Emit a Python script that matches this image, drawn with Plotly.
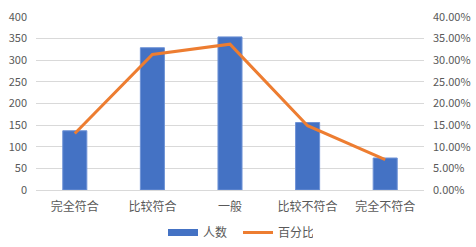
import plotly.graph_objects as go

categories = ["完全符合", "比较符合", "一般", "比较不符合", "完全不符合"]
counts = [137, 329, 354, 156, 74]
percents = [0.1305, 0.3133, 0.3371, 0.1486, 0.0705]
left_ticks = [0, 50, 100, 150, 200, 250, 300, 350, 400]
right_ticks = [0, 0.05, 0.10, 0.15, 0.20, 0.25, 0.30, 0.35, 0.40]

fam = "Noto Sans CJK SC, Liberation Sans, sans-serif"
font = dict(family=fam, size=11, color="#595959")
xfont = dict(family=fam, size=12, color="#595959")

fig = go.Figure()
fig.add_trace(go.Bar(x=categories, y=counts, name="人数", showlegend=False,
                     marker=dict(color="#4472C4", line=dict(color="#6f93d6", width=1))))
fig.add_trace(go.Scatter(x=[None], y=[None], name="人数", mode="lines",
                         line=dict(color="#4472C4", width=7)))
fig.add_trace(go.Scatter(x=categories, y=percents, name="百分比", yaxis="y2",
                         mode="lines", line=dict(color="#ED7D31", width=3)))

fig.update_layout(
    width=476, height=247,
    margin=dict(l=36, r=52, t=17, b=57, autoexpand=False),
    paper_bgcolor="white", plot_bgcolor="white",
    font=font,
    bargap=0.69,
    showlegend=True,
    legend=dict(orientation="h", xref="container", x=0.5, xanchor="center",
                yref="container", y=0.0, yanchor="bottom", font=xfont,
                itemwidth=30, entrywidth=30, traceorder="normal"),
    xaxis=dict(showgrid=False, showline=True, linecolor="#d9d9d9", ticks="",
               tickfont=xfont, ticklabelstandoff=6, automargin=False),
    yaxis=dict(range=[0, 400], tickvals=left_ticks, showgrid=True, gridcolor="#d9d9d9",
               zeroline=False, showline=False, ticks="", tickfont=font,
               ticklabelstandoff=8, automargin=False),
    yaxis2=dict(range=[0, 0.4], tickvals=right_ticks, tickformat=".2%", overlaying="y",
                side="right", showgrid=False, zeroline=False, showline=False, ticks="",
                tickfont=font, ticklabelstandoff=8, automargin=False),
)

fig.write_html("out.html")
